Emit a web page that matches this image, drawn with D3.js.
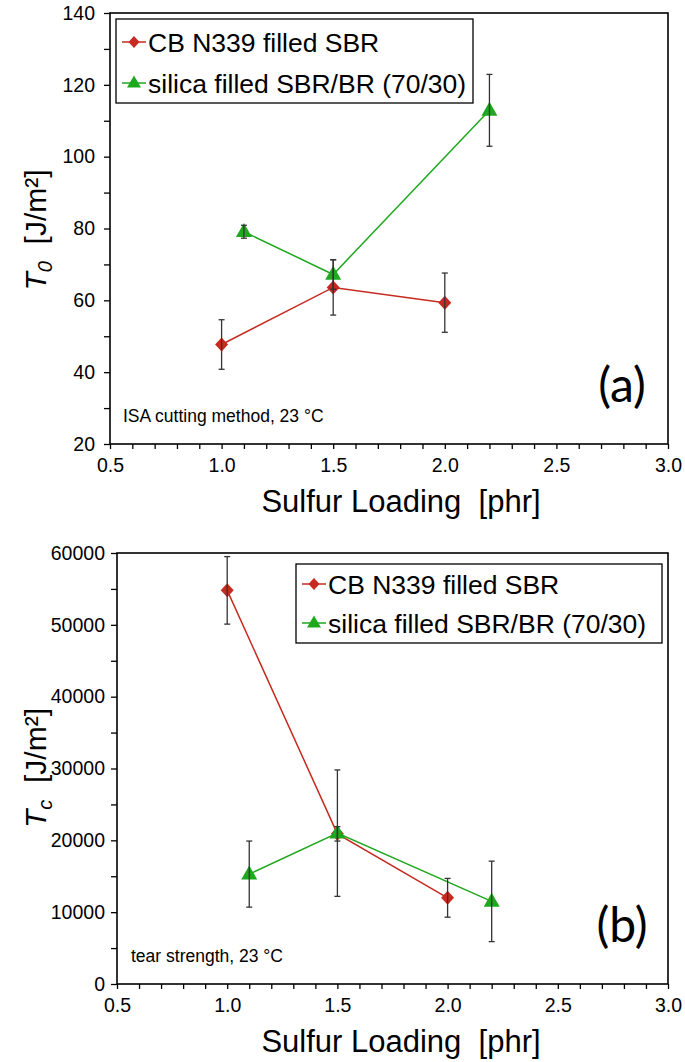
<!DOCTYPE html>
<html><head><meta charset="utf-8">
<script src="https://cdn.jsdelivr.net/npm/d3@7"></script>
<style>
body{margin:0;background:#fff;}
svg{display:block;font-family:"Liberation Sans",Arial,sans-serif;}
</style></head><body>
<svg id="chart" width="685" height="1062"></svg>
<script>
// ---- data ----
const seriesNames = ["CB N339 filled SBR", "silica filled SBR/BR (70/30)"];
const xTickValues = [0.5, 1.0, 1.5, 2.0, 2.5, 3.0];
const yTickValuesA = [20, 40, 60, 80, 100, 120, 140];
const yTickValuesB = [0, 10000, 20000, 30000, 40000, 50000, 60000];

// panel (a): T0 [J/m2]
const cbXa = [1.0, 1.5, 2.0];
const cbYa = [47.7, 63.6, 59.35];
const cbErrA = [6.9, 7.7, 8.25];
const siXa = [1.1, 1.5, 2.2];
const siYa = [79.1, 67.2, 112.9];
const siErrA = [1.8, 4.1, 10.0];

// panel (b): Tc [J/m2]
const cbXb = [1.0, 1.5, 2.0];
const cbYb = [54800, 20900, 12000];
const cbErrB = [4700, 1000, 2700];
const siXb = [1.1, 1.5, 2.2];
const siYb = [15300, 21000, 11500];
const siErrB = [4600, 8800, 5600];

const RED = "#c62a20", GREEN = "#1ea81e";
const FONT = "'Liberation Sans', Arial, sans-serif";
const svg = d3.select("#chart");

function zip(xs, ys, es){ return xs.map((x,i)=>({x, y:ys[i], e:es[i]})); }

// custom diamond and triangle generators
const diamond = (w, h) => `M0,${-h}L${w},0L0,${h}L${-w},0Z`;
const triangle = (w, h) => `M0,${-h*0.62}L${w},${h*0.38}L${-w},${h*0.38}Z`;

function panel(cfg){
  const g = svg.append("g");
  const x = d3.scaleLinear().domain([0.5, 3.0]).range([cfg.left, cfg.right]);
  const y = d3.scaleLinear().domain(cfg.yDomain).range([cfg.bottom, cfg.top]);

  // x axis with minor ticks
  const xAll = d3.range(5, 31).map(v => v/10);
  const xAxis = d3.axisBottom(x).tickValues(xAll).tickSize(5).tickPadding(9)
    .tickFormat(d => xTickValues.some(v => Math.abs(v-d)<1e-9) ? d3.format(".1f")(d) : "");
  const gx = g.append("g").attr("transform", `translate(0,${cfg.bottom})`).call(xAxis);
  gx.select(".domain").remove();
  gx.attr("font-family", FONT);
  gx.selectAll("line").attr("stroke", "#000").attr("stroke-width", 1.3);
  gx.selectAll("text").attr("font-size", 19.5).attr("fill", "#000");

  const yAll = d3.range(cfg.yDomain[0], cfg.yDomain[1] + cfg.minor/2, cfg.minor);
  const yAxis = d3.axisLeft(y).tickValues(yAll).tickSize(6).tickPadding(cfg.ypad)
    .tickFormat(d => cfg.yTicks.includes(d) ? String(d) : "");
  const gy = g.append("g").attr("transform", `translate(${cfg.left},0)`).call(yAxis);
  gy.select(".domain").remove();
  gy.attr("font-family", FONT);
  gy.selectAll("line").attr("stroke", "#000").attr("stroke-width", 1.3);
  gy.selectAll("text").attr("font-size", 19.5).attr("fill", "#000");

  // frame
  g.append("rect").attr("x", cfg.left).attr("y", cfg.top)
    .attr("width", cfg.right - cfg.left).attr("height", cfg.bottom - cfg.top)
    .attr("fill", "none").attr("stroke", "#000").attr("stroke-width", 1.6);

  const line = d3.line().x(d => x(d.x)).y(d => y(d.y));
  const data = [
    {pts: cfg.cb, color: RED, shape: diamond(6.5, 7)},
    {pts: cfg.si, color: GREEN, shape: triangle(8, 14)}
  ];
  data.forEach(s => {
    g.append("path").datum(s.pts).attr("d", line).attr("fill", "none")
      .attr("stroke", s.color).attr("stroke-width", 1.5);
  });
  data.forEach(s => {
    g.selectAll(null).data(s.pts).enter().append("path")
      .attr("d", s.shape)
      .attr("transform", d => `translate(${x(d.x)},${y(d.y)})`)
      .attr("fill", s.color);
  });
  // error bars
  data.forEach(s => {
    const eb = g.selectAll(null).data(s.pts).enter().append("g")
      .attr("stroke", "#333").attr("stroke-width", 1.3);
    eb.append("line").attr("x1", d => x(d.x)).attr("x2", d => x(d.x))
      .attr("y1", d => y(d.y + d.e)).attr("y2", d => y(d.y - d.e));
    eb.append("line").attr("x1", d => x(d.x)-3).attr("x2", d => x(d.x)+3)
      .attr("y1", d => y(d.y + d.e)).attr("y2", d => y(d.y + d.e));
    eb.append("line").attr("x1", d => x(d.x)-3).attr("x2", d => x(d.x)+3)
      .attr("y1", d => y(d.y - d.e)).attr("y2", d => y(d.y - d.e));
  });

  // legend
  const L = cfg.legend;
  g.append("rect").attr("x", L.x).attr("y", L.y).attr("width", L.w).attr("height", L.h)
    .attr("fill", "#fff").attr("stroke", "#000").attr("stroke-width", 1.3);
  data.forEach((s, i) => {
    const cy = L.y + L.row0 + i * L.dy;
    const lx = L.x + 6;
    g.append("line").attr("x1", lx).attr("x2", lx + 24).attr("y1", cy).attr("y2", cy)
      .attr("stroke", s.color).attr("stroke-width", 1.5);
    g.append("path").attr("d", i === 0 ? diamond(5.5, 6) : triangle(7, 12))
      .attr("transform", `translate(${lx+12},${cy})`)
      .attr("fill", s.color);
    g.append("text").attr("x", lx + 26).attr("y", cy).attr("dy", "0.36em")
      .attr("font-size", 26.5).attr("fill", "#000").text(seriesNames[i]);
  });

  // annotations
  g.append("text").attr("x", cfg.noteX).attr("y", cfg.bottom - 28).attr("font-size", 17.5)
    .attr("fill", "#000").attr("dy", "0.36em").text(cfg.note);
  g.append("text").attr("x", cfg.right - 46).attr("y", cfg.bottom - 59)
    .attr("font-family", "Lato, 'Open Sans', sans-serif").attr("font-size", 48)
    .attr("text-anchor", "middle").attr("dy", "0.36em").attr("fill", "#000").text(cfg.tag);

  // axis titles
  g.append("text").attr("x", 401).attr("y", cfg.bottom + 57)
    .attr("font-size", 31).attr("text-anchor", "middle").attr("dy", "0.36em").attr("fill", "#000")
    .text("Sulfur Loading\u00A0\u00A0[phr]");
  const yt = g.append("text").attr("transform", `translate(35,${cfg.yTitleY}) rotate(-90)`)
    .attr("font-size", 30).attr("text-anchor", "middle").attr("dy", "0.36em").attr("fill", "#000");
  yt.append("tspan").attr("font-style", "italic").text("T");
  yt.append("tspan").attr("font-style", "italic").attr("font-size", 20).attr("dy", "0.3em").text(cfg.sub);
  yt.append("tspan").attr("dy", "-0.2em").text("\u00A0\u00A0[J/m²]");
}

panel({
  left: 110, right: 668, top: 13, bottom: 444,
  yDomain: [20, 140], minor: 10, yTicks: yTickValuesA, ypad: 9,
  cb: zip(cbXa, cbYa, cbErrA), si: zip(siXa, siYa, siErrA),
  legend: {x: 116, y: 19, w: 357, h: 84, row0: 23, dy: 41},
  note: "ISA cutting method, 23 °C", noteX: 123, tag: "(a)", sub: "0", yTitleY: 230
});
panel({
  left: 117, right: 668, top: 553, bottom: 984,
  yDomain: [0, 60000], minor: 5000, yTicks: yTickValuesB, ypad: 6,
  cb: zip(cbXb, cbYb, cbErrB), si: zip(siXb, siYb, siErrB),
  legend: {x: 296, y: 564, w: 366, h: 79, row0: 20, dy: 39},
  note: "tear strength, 23 °C", noteX: 131, tag: "(b)", sub: "c", yTitleY: 768
});
</script>
</body></html>
